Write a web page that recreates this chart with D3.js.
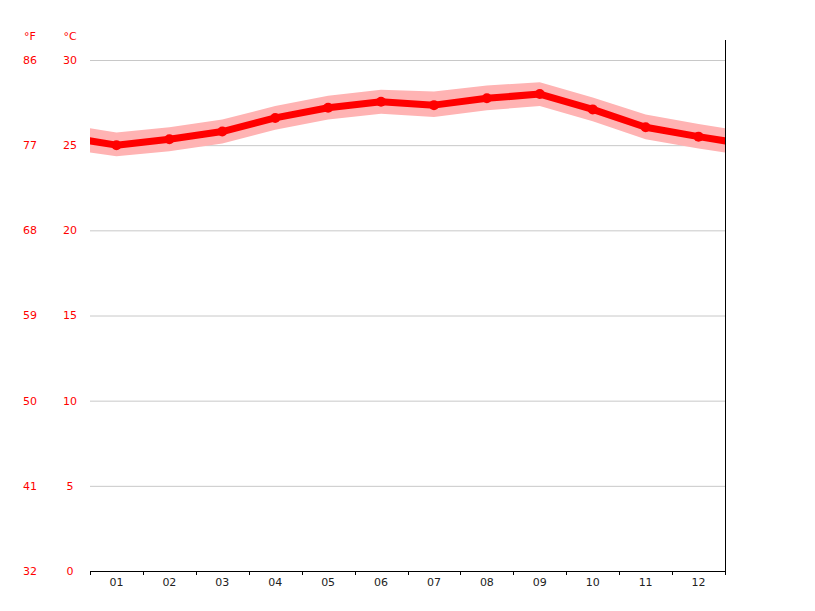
<!DOCTYPE html>
<html>
<head>
<meta charset="utf-8">
<script src="https://cdn.jsdelivr.net/npm/d3@7"></script>
<style>
  body { margin: 0; background: #fff; }
  text { font-family: "DejaVu Sans", sans-serif; }
</style>
</head>
<body>
<div id="chart"></div>
<script>
const months = ["01", "02", "03", "04", "05", "06", "07", "08", "09", "10", "11", "12"];
const meanTemp = [25.0, 25.35, 25.8, 26.6, 27.2, 27.55, 27.35, 27.75, 28.0, 27.1, 26.05, 25.5];
const highTemp = [25.75, 26.05, 26.5, 27.3, 27.9, 28.25, 28.15, 28.5, 28.7, 27.8, 26.8, 26.25];
const lowTemp  = [24.35, 24.65, 25.1, 25.9, 26.5, 26.85, 26.65, 27.05, 27.3, 26.4, 25.35, 24.8];
const celsiusTicks = [0, 5, 10, 15, 20, 25, 30];
const fahrenheitTicks = ["32", "41", "50", "59", "68", "77", "86"];

const width = 815, height = 611;
const plotLeft = 90, plotRight = 725, plotTop = 60, plotBottom = 571;

const svg = d3.select("#chart")
    .append("svg")
    .attr("width", width)
    .attr("height", height);

const x = d3.scaleLinear().domain([0, 12]).range([plotLeft, plotRight]);
const y = d3.scaleLinear().domain([0, 30]).range([plotBottom, plotTop]);

// wrap the year around so the line runs to the plot edges
const rows = months.map((m, i) => ({ pos: i + 0.5, mean: meanTemp[i], hi: highTemp[i], lo: lowTemp[i] }));
const ext = [{ ...rows[11], pos: -0.5 }, ...rows, { ...rows[0], pos: 12.5 }];

svg.append("clipPath").attr("id", "plot")
    .append("rect")
    .attr("x", plotLeft).attr("y", 0)
    .attr("width", plotRight - plotLeft).attr("height", plotBottom);

// grid
svg.selectAll("line.grid")
    .data(celsiusTicks.filter(d => d > 0))
    .enter()
    .append("line")
    .attr("class", "grid")
    .attr("x1", plotLeft).attr("x2", plotRight)
    .attr("y1", d => y(d) + 0.5).attr("y2", d => y(d) + 0.5)
    .attr("stroke", "#c8c8c8")
    .attr("stroke-width", 1);

// y labels
svg.selectAll("text.c")
    .data(celsiusTicks)
    .enter()
    .append("text")
    .attr("x", 70)
    .attr("y", d => y(d))
    .attr("dy", "0.35em")
    .attr("text-anchor", "middle")
    .attr("fill", "#ff0000")
    .style("font-size", "11px")
    .text(d => d);

svg.selectAll("text.f")
    .data(fahrenheitTicks)
    .enter()
    .append("text")
    .attr("x", 30)
    .attr("y", (d, i) => y(celsiusTicks[i]))
    .attr("dy", "0.35em")
    .attr("text-anchor", "middle")
    .attr("fill", "#ff0000")
    .style("font-size", "11px")
    .text(d => d);

svg.append("text").attr("x", 30).attr("y", 36).attr("dy", "0.35em")
    .attr("text-anchor", "middle").attr("fill", "#ff0000").style("font-size", "11px").text("°F");
svg.append("text").attr("x", 70).attr("y", 36).attr("dy", "0.35em")
    .attr("text-anchor", "middle").attr("fill", "#ff0000").style("font-size", "11px").text("°C");

const g = svg.append("g").attr("clip-path", "url(#plot)");

// min/max band
g.append("path")
    .datum(ext)
    .attr("fill", "#ffb3b3")
    .attr("d", d3.area().x(d => x(d.pos)).y0(d => y(d.lo)).y1(d => y(d.hi)));

// mean line
g.append("path")
    .datum(ext)
    .attr("fill", "none")
    .attr("stroke", "#ff0000")
    .attr("stroke-width", 7)
    .attr("stroke-linejoin", "round")
    .attr("d", d3.line().x(d => x(d.pos)).y(d => y(d.mean)));

g.selectAll("circle")
    .data(rows)
    .enter()
    .append("circle")
    .attr("cx", d => x(d.pos))
    .attr("cy", d => y(d.mean))
    .attr("r", 5)
    .attr("fill", "#ff0000");

// x axis
svg.append("line")
    .attr("x1", plotLeft).attr("x2", plotRight + 0.5)
    .attr("y1", plotBottom + 0.5).attr("y2", plotBottom + 0.5)
    .attr("stroke", "#000");

svg.selectAll("line.tick")
    .data(d3.range(13))
    .enter()
    .append("line")
    .attr("class", "tick")
    .attr("x1", d => Math.round(x(d)) + 0.5).attr("x2", d => Math.round(x(d)) + 0.5)
    .attr("y1", plotBottom).attr("y2", plotBottom + 4)
    .attr("stroke", "#000");

svg.append("line")
    .attr("x1", plotRight + 0.5).attr("x2", plotRight + 0.5)
    .attr("y1", 40).attr("y2", plotBottom + 4)
    .attr("stroke", "#000");

svg.selectAll("text.month")
    .data(months)
    .enter()
    .append("text")
    .attr("x", (d, i) => x(i + 0.5))
    .attr("y", 582)
    .attr("dy", "0.35em")
    .attr("text-anchor", "middle")
    .attr("fill", "#222")
    .style("font-size", "11px")
    .text(d => d);
</script>
</body>
</html>
